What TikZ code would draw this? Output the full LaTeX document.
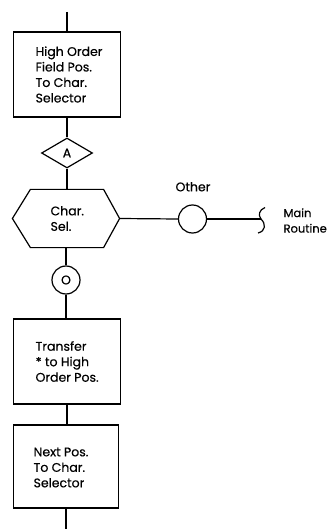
\documentclass[tikz,border=0pt]{standalone}
\usepackage{fontspec}
\setmainfont{Poppins}[FakeBold=0.4]
\usetikzlibrary{shapes.geometric}
\begin{document}
\begin{tikzpicture}[x=1pt,y=-1pt,line width=1.2pt,
  procbox/.style={draw,rectangle,minimum width=107pt,minimum height=85pt,inner sep=0pt},
  txt/.style={anchor=west,align=left,inner sep=0pt,font=\fontsize{12.5}{15.5}\selectfont},
  conn/.style={draw,circle,minimum size=28pt,inner sep=0pt}]
\useasboundingbox (0,0) rectangle (331,529);
\coordinate (top) at (67,12);
\node[procbox] (b1) at (67,74.5) {};
\node[txt] (t1) at (35,74.5) {High Order\\Field Pos.\\To Char.\\Selector};
\node[draw,diamond,minimum width=51pt,minimum height=30pt,inner sep=0pt,font=\fontsize{12.5}{14}\selectfont] (dA) at (67,153) {A};
\node[minimum width=106pt,minimum height=57pt,inner sep=0pt] (hex) at (66,218.5) {};
\draw (hex.west) -- ([xshift=18pt]hex.north west) -- ([xshift=-16pt]hex.north east) -- (hex.east) -- ([xshift=-16pt]hex.south east) -- ([xshift=18pt]hex.south west) -- cycle;
\node[txt] (th) at (50,218.5) {Char.\\Sel.};
\node[conn,font=\fontsize{12.5}{14}\selectfont] (cO) at (66,280) {O};
\node[conn] (cOth) at (192.5,219) {};
\node[txt,anchor=south,font=\fontsize{12.5}{14}\selectfont] (lOth) at (193,192) {Other};
\coordinate (endm) at (261,219);
\draw (endm) .. controls (258,215) and (259,210) .. (265,207.5);
\draw (endm) .. controls (266,224) and (266,231) .. (258,233);
\node[txt,font=\fontsize{11.5}{15.5}\selectfont] (tm) at (283,220.5) {Main\\Routine};
\node[procbox] (b2) at (67,361.5) {};
\node[txt] (t2) at (35,361.5) {Transfer\\* to High\\Order Pos.};
\node[procbox,minimum width=105pt,minimum height=83pt] (b3) at (66,466.5) {};
\node[txt] (t3) at (33,467.5) {Next Pos.\\To Char.\\Selector};
\coordinate (bot) at (66,529);
\draw (top) -- (b1.north);
\draw (b1.south) -- (dA.north);
\draw (dA.south) -- (dA.south |- hex.north);
\draw (hex.east) -- (cOth.west);
\draw (cOth.east) -- (endm);
\draw (hex.south) -- (cO.north);
\draw (cO.south) -- (cO.south |- b2.north);
\draw (b2.south) -- (b2.south |- b3.north);
\draw (b3.south) -- (bot);
\end{tikzpicture}
\end{document}
